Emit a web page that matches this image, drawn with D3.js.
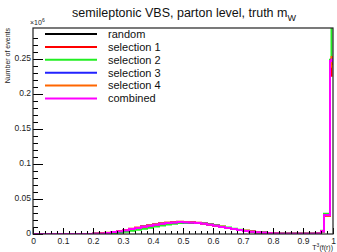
<!DOCTYPE html>
<html>
<head>
<meta charset="utf-8">
<script src="https://cdn.jsdelivr.net/npm/d3@7"></script>
<style>
  body { margin: 0; background: #fff; }
  svg { font-family: 'Liberation Sans', Arial, sans-serif; }
  .axis text { fill: #222; font-size: 8.5px; }
  .axis line { stroke: #000; }
</style>
</head>
<body>
<div id="chart"></div>
<script>
// bin edges in T^3(f(r)) (fine bins near 1)
const binEdges = [0, 0.02, 0.04, 0.06, 0.08, 0.1, 0.12, 0.14, 0.16, 0.18, 0.2,
  0.22, 0.24, 0.26, 0.28, 0.3, 0.32, 0.34, 0.36, 0.38, 0.4,
  0.42, 0.44, 0.46, 0.48, 0.5, 0.52, 0.54, 0.56, 0.58, 0.6,
  0.62, 0.64, 0.66, 0.68, 0.7, 0.72, 0.74, 0.76, 0.78, 0.8,
  0.82, 0.84, 0.86, 0.88, 0.9, 0.92, 0.94, 0.96, 0.97, 0.99, 0.995, 1.0]

const seriesNames = ['random', 'selection 1', 'selection 2', 'selection 3', 'selection 4', 'combined']
const seriesColors = ['#000000', '#ff0000', '#22ee22', '#2222ff', '#ff6600', '#ff00ff']

// values in units of 10^6 events
const random = [0, 0, 0, 0, 0, 0, 0, 0, 0, 0,
  0.0003, 0.0008, 0.0016, 0.0027, 0.004, 0.0055, 0.007, 0.0086, 0.0102, 0.0118,
  0.0133, 0.0147, 0.0158, 0.0166, 0.017, 0.0169, 0.0164, 0.0156, 0.0145, 0.0132,
  0.0117, 0.0101, 0.0085, 0.007, 0.0056, 0.0044, 0.0033, 0.0024, 0.0017, 0.0012,
  0.0008, 0.0005, 0.0003, 0.0002, 0.0002, 0.0002, 0.0003, 0.0008, 0.004, 0.027, 0.246, 0.248]
const selection1 = [0, 0, 0, 0, 0, 0, 0, 0, 0, 0,
  0.0003, 0.0008, 0.0016, 0.0028, 0.0042, 0.0058, 0.0074, 0.009, 0.0106, 0.0122,
  0.0137, 0.0151, 0.0162, 0.017, 0.0174, 0.0173, 0.0168, 0.0159, 0.0148, 0.0134,
  0.0119, 0.0103, 0.0087, 0.0071, 0.0057, 0.0045, 0.0034, 0.0025, 0.0018, 0.0012,
  0.0008, 0.0005, 0.0003, 0.0002, 0.0002, 0.0002, 0.0003, 0.0008, 0.004, 0.026, 0.226, 0.243]
const selection2 = [0, 0, 0, 0, 0, 0, 0, 0, 0, 0,
  0.0001, 0.0003, 0.0007, 0.0013, 0.0022, 0.0033, 0.0046, 0.006, 0.0075, 0.009,
  0.0106, 0.0121, 0.0135, 0.0147, 0.0156, 0.0161, 0.0161, 0.0157, 0.0149, 0.0138,
  0.0124, 0.0108, 0.0092, 0.0076, 0.0061, 0.0048, 0.0036, 0.0026, 0.0018, 0.0012,
  0.0008, 0.0005, 0.0003, 0.0002, 0.0002, 0.0002, 0.0003, 0.0009, 0.0045, 0.029, 0.249, 0.32]
const selection3 = [0, 0, 0, 0, 0, 0, 0, 0, 0, 0,
  0.0003, 0.0008, 0.0016, 0.0027, 0.004, 0.0055, 0.007, 0.0086, 0.0102, 0.0118,
  0.0133, 0.0147, 0.0158, 0.0166, 0.017, 0.0169, 0.0164, 0.0156, 0.0145, 0.0132,
  0.0117, 0.0101, 0.0085, 0.007, 0.0056, 0.0044, 0.0033, 0.0024, 0.0017, 0.0012,
  0.0008, 0.0005, 0.0003, 0.0002, 0.0002, 0.0002, 0.0003, 0.0008, 0.004, 0.027, 0.245, 0.25]
const selection4 = [0, 0, 0, 0, 0, 0, 0, 0, 0, 0,
  0.0003, 0.0009, 0.0017, 0.0028, 0.0042, 0.0057, 0.0073, 0.0089, 0.0105, 0.0121,
  0.0136, 0.015, 0.0161, 0.0169, 0.0173, 0.0172, 0.0167, 0.0158, 0.0147, 0.0133,
  0.0118, 0.0102, 0.0086, 0.0071, 0.0057, 0.0045, 0.0034, 0.0025, 0.0018, 0.0012,
  0.0008, 0.0005, 0.0003, 0.0002, 0.0002, 0.0002, 0.0003, 0.0008, 0.004, 0.027, 0.239, 0.253]
const combined = [0, 0, 0, 0, 0, 0, 0, 0, 0, 0,
  0.0003, 0.0008, 0.0016, 0.0027, 0.004, 0.0055, 0.007, 0.0086, 0.0102, 0.0118,
  0.0133, 0.0147, 0.0158, 0.0166, 0.017, 0.0169, 0.0164, 0.0156, 0.0145, 0.0132,
  0.0117, 0.0101, 0.0085, 0.007, 0.0056, 0.0044, 0.0033, 0.0024, 0.0017, 0.0012,
  0.0008, 0.0005, 0.0003, 0.0002, 0.0002, 0.0002, 0.0003, 0.0008, 0.004, 0.027, 0.247, 0.249]

const allSeries = [random, selection1, selection2, selection3, selection4, combined]

const xTicks = [0, 0.1, 0.2, 0.3, 0.4, 0.5, 0.6, 0.7, 0.8, 0.9, 1]
const yTicks = [0, 0.05, 0.1, 0.15, 0.2, 0.25]

const width = 337
const height = 252
const margin = { top: 28, left: 33, right: 4, bottom: 18 }

const svg = d3
  .select('#chart')
  .append('svg')
  .attr('width', width)
  .attr('height', height)

const xPositionScale = d3
  .scaleLinear()
  .domain([0, 1])
  .range([margin.left, width - margin.right])

const yPositionScale = d3
  .scaleLinear()
  .domain([0, 0.2943])
  .range([height - margin.bottom, margin.top])

svg
  .append('clipPath')
  .attr('id', 'frame-clip')
  .append('rect')
  .attr('x', margin.left)
  .attr('y', margin.top)
  .attr('width', width - margin.left - margin.right)
  .attr('height', height - margin.top - margin.bottom)

// histograms
const line = d3
  .line()
  .x(d => xPositionScale(d[0]))
  .y(d => yPositionScale(d[1]))
  .curve(d3.curveStepAfter)

const plot = svg.append('g').attr('clip-path', 'url(#frame-clip)')

allSeries.forEach(function(values, i) {
  const pts = values.map((v, j) => [binEdges[j], v])
  pts.push([binEdges[binEdges.length - 1], values[values.length - 1]])
  plot
    .append('path')
    .datum(pts)
    .attr('d', line)
    .attr('fill', 'none')
    .attr('stroke', seriesColors[i])
    .attr('stroke-width', 2)
})

// axes (ROOT style ticks inside the frame)
const x0 = height - margin.bottom
svg
  .append('g')
  .attr('class', 'axis')
  .attr('transform', 'translate(0,' + x0 + ')')
  .call(d3.axisBottom(xPositionScale).tickValues(d3.range(0, 1.001, 0.02)).tickSize(-3).tickFormat(''))
  .call(g => g.select('.domain').remove())

svg
  .append('g')
  .attr('class', 'axis')
  .attr('transform', 'translate(0,' + x0 + ')')
  .call(d3.axisBottom(xPositionScale).tickValues(xTicks).tickSize(-6).tickFormat(d3.format('')))
  .call(g => g.select('.domain').remove())
  .call(g => g.selectAll('.tick text').attr('y', 4).attr('dy', '0.71em'))

svg
  .append('g')
  .attr('class', 'axis')
  .attr('transform', 'translate(' + margin.left + ',0)')
  .call(d3.axisLeft(yPositionScale).tickValues(d3.range(0, 0.29, 0.01)).tickSize(-5).tickFormat(''))
  .call(g => g.select('.domain').remove())

svg
  .append('g')
  .attr('class', 'axis')
  .attr('transform', 'translate(' + margin.left + ',0)')
  .call(d3.axisLeft(yPositionScale).tickValues(yTicks).tickSize(-10).tickFormat(d3.format('')))
  .call(g => g.select('.domain').remove())
  .call(g => g.selectAll('.tick text').attr('x', -2).attr('dy', '0.2em'))

// frame
svg
  .append('rect')
  .attr('x', margin.left)
  .attr('y', margin.top)
  .attr('width', width - margin.left - margin.right)
  .attr('height', height - margin.top - margin.bottom)
  .attr('fill', 'none')
  .attr('stroke', '#222')
  .attr('stroke-width', 1.2)

// exponent
svg
  .append('text')
  .attr('x', margin.left - 3)
  .attr('y', margin.top - 3)
  .attr('font-size', 7)
  .attr('fill', '#222')
  .text('×10')
  .append('tspan')
  .attr('font-size', 5)
  .attr('dy', -3)
  .text('6')

// axis titles
svg
  .append('text')
  .attr('transform', 'translate(10,' + margin.top + ') rotate(-90)')
  .attr('text-anchor', 'end')
  .attr('font-size', 7)
  .attr('fill', '#222')
  .text('Number of events')

const xt = svg
  .append('text')
  .attr('x', width - 4)
  .attr('y', height - 2)
  .attr('text-anchor', 'end')
  .attr('font-size', 7)
  .attr('fill', '#222')
xt.append('tspan').text('T')
xt.append('tspan').attr('font-size', 5).attr('dy', -3).text('3')
xt.append('tspan').attr('dy', 3).text('(f(r))')

// title
const title = svg
  .append('text')
  .attr('x', 184)
  .attr('y', 17)
  .attr('text-anchor', 'middle')
  .attr('font-size', 12.5)
  .attr('fill', '#111')
title.append('tspan').text('semileptonic VBS, parton level, truth m')
title.append('tspan').attr('font-size', 9).attr('dy', 4).text('W')

// legend
const legend = svg
  .append('g')
  .selectAll('g')
  .data(seriesNames)
  .enter()
  .append('g')
  .attr('transform', (d, i) => 'translate(0,' + (34 + i * 12.9) + ')')

legend
  .append('line')
  .attr('x1', 45)
  .attr('x2', 97)
  .attr('stroke', (d, i) => seriesColors[i])
  .attr('stroke-width', 2)

legend
  .append('text')
  .attr('x', 108)
  .attr('dy', '0.35em')
  .attr('font-size', 11)
  .attr('fill', '#111')
  .text(d => d)
</script>
</body>
</html>
